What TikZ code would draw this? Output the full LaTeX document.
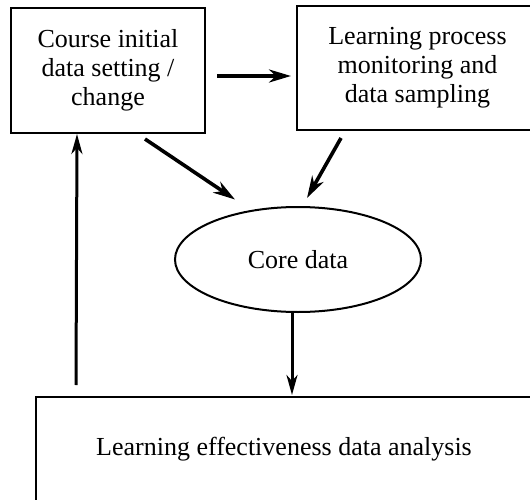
\documentclass[tikz,border=0pt]{standalone}
\usepackage{fontspec}
\setmainfont{Liberation Serif}
\usetikzlibrary{arrows.meta,shapes.geometric,calc}
\begin{document}
\begin{tikzpicture}[x=1pt,y=-1pt,
  every node/.style={font=\fontsize{26}{29}\selectfont},
  box/.style={draw,line width=2pt,align=center,inner sep=0pt},
  oval/.style={draw,ellipse,line width=2pt,inner sep=0pt},
  arr/.style={line width=3.6pt,-{Stealth[length=22pt,width=13pt,inset=7pt]}},
  arrv/.style={line width=3pt,-{Stealth[length=20pt,width=11pt,inset=6pt]}}]
\useasboundingbox (0,0) rectangle (530,500);
\clip (0,0) rectangle (530,500);
\node[box,minimum width=194pt,minimum height=125pt] (b1) at (108,70.5)
  {Course initial\\data setting /\\change};
\node[box,minimum width=241pt,minimum height=124pt] (b2) at (417.5,68)
  {Learning process\\monitoring and\\data sampling};
\node[oval,minimum width=246pt,minimum height=105pt] (core) at (298,259.5) {Core data};
\node[box,minimum width=496pt,minimum height=110pt,text height=20pt,text depth=14pt] (b4) at (284,452)
  {Learning effectiveness data analysis};
\draw[arr] ($(b1.east)+(11,5.5)$) -- ($(b2.west)+(-5,8)$);
\draw[arr] ($(b1.south)+(37,5)$) -- ($(core.center)+(-63,-60)$);
\draw[arr] ($(b2.south)+(-76.5,7)$) -- ($(core.center)+(9,-61.5)$);
\draw[arrv] ($(core.south)+(-6,0)$) -- ($(b4.north)+(8,-1)$);
\draw[arrv] ($(b4.north west)+(41,-11)$) -- ($(b1.south)+(-31,0)$);
\end{tikzpicture}
\end{document}
